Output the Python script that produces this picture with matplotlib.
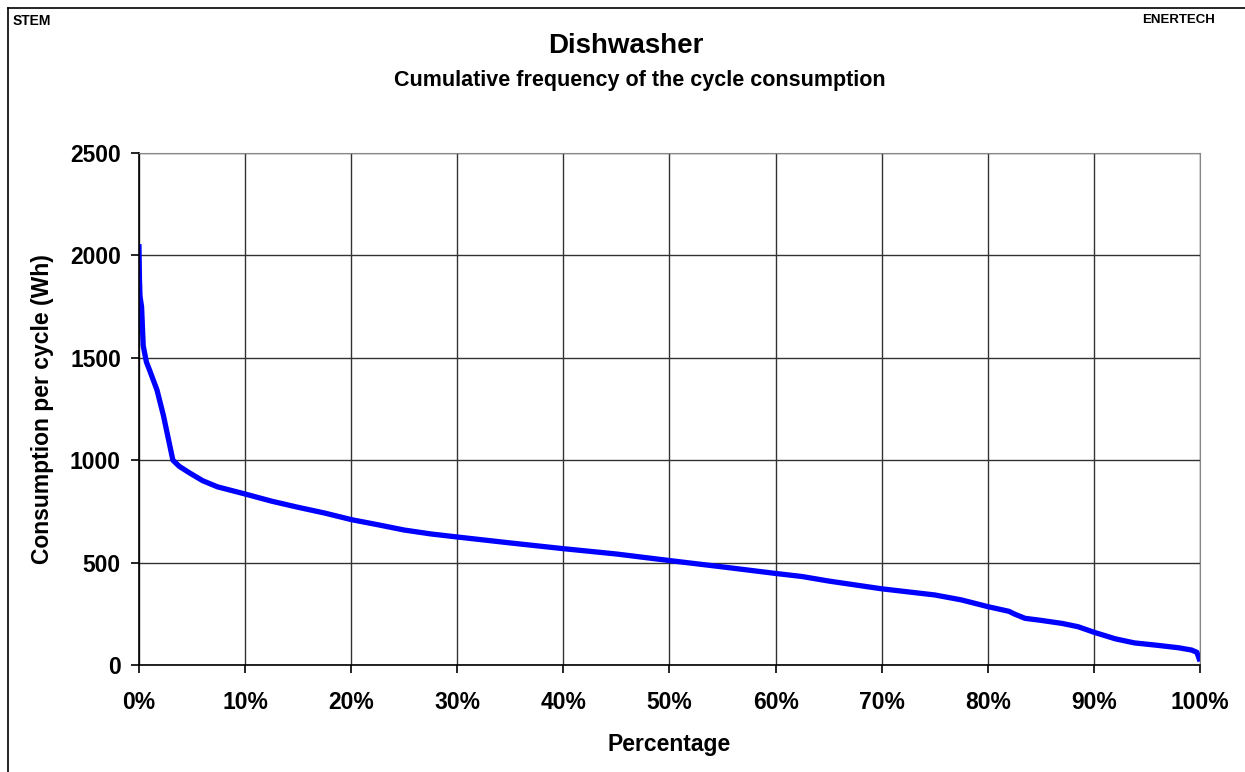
import matplotlib.pyplot as plt
from matplotlib.ticker import FuncFormatter

# Cumulative frequency curve (percent of cycles, Wh per cycle)
pct = [0.0, 0.05, 0.1, 0.25, 0.4, 0.7, 1.0, 1.7, 2.3, 3.2, 3.8, 4.8, 6.0, 7.4,
       10.0, 12.5, 15.0, 17.5, 20.0, 22.5, 25.0, 27.5, 30.0, 35.0, 40.0, 45.0,
       50.0, 55.0, 60.0, 62.5, 65.0, 70.0, 75.0, 77.5, 80.0, 82.0, 82.5, 83.5,
       85.0, 87.0, 88.5, 90.0, 92.0, 93.8, 96.0, 98.0, 99.2, 99.7, 100.0]
wh = [2055, 1880, 1800, 1748, 1560, 1480, 1440, 1343, 1220, 1000, 970, 937, 900, 870,
      835, 800, 770, 742, 710, 685, 659, 640, 625, 596, 568, 542,
      510, 479, 447, 432, 410, 372, 342, 318, 285, 262, 249, 228,
      218, 203, 187, 160, 128, 108, 96, 84, 73, 62, 18]

yticks = [0, 500, 1000, 1500, 2000, 2500]
xticks = [0, 10, 20, 30, 40, 50, 60, 70, 80, 90, 100]

plt.rcParams['font.family'] = ['Liberation Sans', 'DejaVu Sans']

fig = plt.figure(figsize=(12.45, 7.72), dpi=100)
ax = fig.add_axes([0.1116, 0.1386, 0.8523, 0.6632])

ax.plot(pct, wh, color='#0000ff', linewidth=3.8, solid_capstyle='butt')

ax.set_xlim(0, 100)
ax.set_ylim(0, 2500)
ax.set_xticks(xticks)
ax.set_yticks(yticks)
ax.xaxis.set_major_formatter(FuncFormatter(lambda v, p: f"{int(v)}%"))
ax.grid(True, color='#333333', linewidth=1.0)
ax.set_axisbelow(True)
ax.tick_params(axis='both', labelsize=16.5, length=6, width=1.2, color='black')
ax.tick_params(axis='x', pad=13)
ax.tick_params(axis='y', pad=7)
for lab in ax.get_xticklabels() + ax.get_yticklabels():
    lab.set_fontweight('bold')
ax.spines['left'].set_color('black')
ax.spines['bottom'].set_color('black')
ax.spines['left'].set_linewidth(1.2)
ax.spines['bottom'].set_linewidth(1.2)
ax.spines['top'].set_color('#888888')
ax.spines['right'].set_color('#888888')

ax.set_xlabel("Percentage", fontsize=16.5, fontweight='bold')
ax.set_ylabel("Consumption per cycle (Wh)", fontsize=16.5, fontweight='bold')
ax.xaxis.set_label_coords(0.5, -0.133)
ax.yaxis.set_label_coords(-0.080, 0.5)

fig.text(0.503, 0.940, "Dishwasher", ha='center', va='center', fontsize=20, fontweight='bold')
fig.text(0.514, 0.896, "Cumulative frequency of the cycle consumption", ha='center',
         va='center', fontsize=15.5, fontweight='bold')
fig.text(0.010, 0.982, "STEM", ha='left', va='top', fontsize=10, fontweight='bold')
fig.text(0.976, 0.982, "ENERTECH", ha='right', va='top', fontsize=9.5, fontweight='bold')

# frame lines at top and left of the picture
fig.add_artist(plt.Line2D([0.0064, 1.0], [0.9896, 0.9896], color='black', linewidth=1.2,
                          transform=fig.transFigure))
fig.add_artist(plt.Line2D([0.0064, 0.0064], [0.0, 0.9896], color='black', linewidth=1.2,
                          transform=fig.transFigure))

fig.savefig("out.png", dpi=100)
